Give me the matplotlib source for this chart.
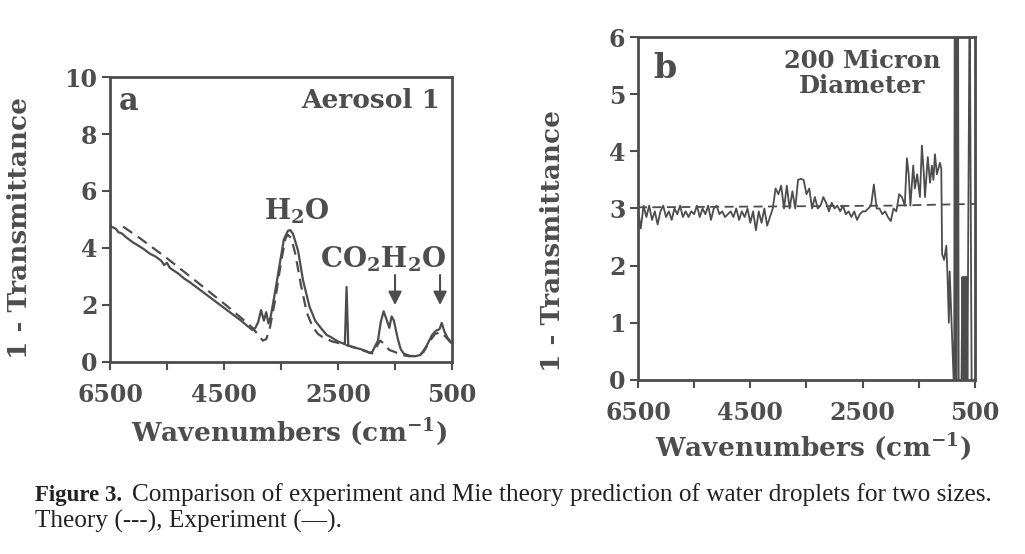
# Figure 3: experiment vs Mie theory, water droplets (two panels)

import matplotlib.pyplot as plt

# ---- data, panel a (Aerosol 1) ----
wn_a_exp = [6500, 6480, 6400, 6350, 6300, 6200, 6100, 6000, 5900, 5800, 5700, 5600,
            5550, 5500, 5450, 5300, 5200, 5100, 5000, 4900, 4800, 4700, 4600, 4500,
            4400, 4300, 4200, 4100, 4000, 3950, 3900, 3850, 3800, 3760, 3720, 3680,
            3600, 3520, 3450, 3380, 3340, 3290, 3200, 3115, 3000, 2900, 2820, 2700,
            2640, 2500, 2410, 2380, 2350, 2320, 2200, 2100, 2000, 1950, 1900, 1800,
            1750, 1700, 1650, 1600, 1560, 1520, 1450, 1400, 1350, 1250, 1150, 1050,
            950, 850, 780, 720, 680, 640, 580, 500]
t_a_exp = [4.87, 4.75, 4.68, 4.55, 4.52, 4.35, 4.20, 4.08, 3.95, 3.80, 3.70, 3.55,
           3.40, 3.48, 3.30, 3.10, 2.93, 2.80, 2.65, 2.50, 2.35, 2.20, 2.05, 1.90,
           1.75, 1.60, 1.45, 1.28, 1.12, 1.20, 1.40, 1.82, 1.45, 1.75, 1.35, 1.60,
           2.50, 3.47, 4.30, 4.60, 4.63, 4.50, 3.90, 2.88, 1.94, 1.45, 1.24, 0.95,
           0.89, 0.72, 0.65, 0.62, 2.63, 0.58, 0.50, 0.45, 0.38, 0.32, 0.35, 0.75,
           1.40, 1.78, 1.50, 1.20, 1.60, 1.45, 0.80, 0.45, 0.30, 0.22, 0.20, 0.25,
           0.55, 0.95, 1.10, 1.15, 1.37, 1.10, 0.85, 0.65]

wn_a_th = [6270, 6000, 5500, 5000, 4500, 4200, 4000, 3900, 3820, 3760, 3700, 3600,
           3500, 3420, 3380, 3320, 3250, 3150, 3050, 2950, 2850, 2750, 2600, 2400,
           2200, 2000, 1900, 1850, 1760, 1700, 1600, 1500, 1400, 1250, 1100, 1000,
           900, 800, 700, 620, 540, 500]
t_a_th = [4.75, 4.38, 3.64, 2.85, 2.05, 1.55, 1.20, 0.95, 0.75, 0.80, 1.15, 2.20,
          3.50, 4.35, 4.46, 4.35, 3.80, 2.70, 1.75, 1.25, 0.98, 0.85, 0.72, 0.62,
          0.50, 0.36, 0.30, 0.45, 0.75, 0.65, 0.42, 0.35, 0.25, 0.20, 0.22, 0.35,
          0.70, 0.98, 1.05, 0.90, 0.72, 0.65]

# ---- data, panel b (200 micron diameter) ----
wn_b_exp = [6500, 6450, 6400, 6350, 6300, 6250, 6200, 6150, 6100, 6050, 6000, 5950,
            5900, 5850, 5800, 5750, 5700, 5650, 5600, 5550, 5500, 5450, 5400, 5350,
            5300, 5250, 5200, 5150, 5100, 5050, 5000, 4950, 4900, 4850, 4800, 4750,
            4700, 4650, 4600, 4550, 4500, 4450, 4400, 4350, 4300, 4250, 4200, 4150,
            4100, 4050, 4000, 3950, 3900, 3850, 3800, 3750, 3700, 3650, 3600, 3550,
            3500, 3450, 3400, 3350, 3300, 3250, 3200, 3150, 3100, 3050, 3000, 2950,
            2900, 2850, 2800, 2750, 2700, 2650, 2600, 2550, 2500, 2450, 2400, 2350,
            2300, 2250, 2200, 2150, 2100, 2050, 2000, 1950, 1900, 1850, 1800, 1750,
            1712, 1680, 1650, 1600, 1570, 1530, 1480, 1445, 1410, 1390, 1340, 1300,
            1267, 1240, 1213, 1178, 1150, 1124, 1100, 1085, 1050, 1010, 990, 965,
            950, 880, 870, 862, 848, 840, 828, 818, 800, 790, 740, 725,
            715, 705, 695, 685, 675, 665, 655, 645, 635, 625, 600, 590, 560]
t_b_exp = [3.00, 2.65, 3.05, 2.85, 3.05, 2.80, 2.95, 2.72, 2.95, 3.05, 2.85, 2.95,
           2.80, 3.00, 2.90, 3.05, 2.85, 2.95, 2.85, 2.95, 2.90, 3.05, 2.85, 3.00,
           2.90, 3.05, 2.80, 3.00, 3.05, 2.90, 2.95, 2.85, 2.90, 2.95, 2.85, 3.00,
           2.80, 2.95, 2.85, 3.00, 2.75, 2.95, 2.62, 2.95, 2.75, 3.00, 2.70, 2.85,
           3.00, 3.35, 3.25, 3.40, 3.00, 3.40, 3.00, 3.30, 3.00, 3.50, 3.52, 3.50,
           3.25, 3.35, 3.00, 3.20, 3.00, 3.05, 3.20, 3.10, 2.95, 3.10, 3.00, 3.05,
           2.95, 3.05, 2.90, 2.95, 2.85, 2.95, 2.80, 2.90, 2.95, 2.95, 3.00, 3.05,
           3.42, 3.00, 3.00, 2.90, 2.95, 2.85, 2.78, 3.00, 2.95, 3.25, 3.20, 3.05,
           3.88, 3.60, 3.05, 3.75, 3.35, 3.60, 3.20, 4.10, 3.60, 3.20, 3.90, 3.45,
           3.75, 3.50, 3.95, 3.60, 3.70, 3.80, 3.70, 2.20, 2.10, 2.35, 1.85, 1.00,
           1.90, 0.00, 0.00, 6.00, 6.00, 0.00, 0.00, 6.00, 6.00, 0.00, 0.00, 1.80,
           0.00, 1.80, 0.00, 1.80, 0.00, 1.80, 0.00, 1.80, 0.00, 1.80, 6.00, 6.00, 0.00]

wn_b_th = [6500, 5000, 3500, 2000, 1000, 500]
t_b_th = [3.02, 3.03, 3.04, 3.05, 3.07, 3.08]

ink = '#4d4d4d'
plt.rcParams['font.family'] = 'DejaVu Serif'
plt.rcParams['font.weight'] = 'bold'
plt.rcParams['mathtext.fontset'] = 'dejavuserif'
plt.rcParams['text.color'] = ink
plt.rcParams['axes.labelcolor'] = ink
plt.rcParams['axes.edgecolor'] = ink
plt.rcParams['xtick.color'] = ink
plt.rcParams['ytick.color'] = ink

fig = plt.figure(figsize=(10.25, 5.54), dpi=100)


def style_axes(ax, ymax):
    ax.set_xlim(6500, 500)
    ax.set_ylim(0, ymax)
    ax.set_xticks([6500, 5500, 4500, 3500, 2500, 1500, 500])
    ax.set_xticklabels(['6500', '', '4500', '', '2500', '', '500'])
    ax.tick_params(axis='both', direction='out', length=6, width=1.5, labelsize=17)
    ax.tick_params(axis='x', pad=9)
    ax.tick_params(axis='y', pad=3)
    for s in ax.spines.values():
        s.set_linewidth(2)
    ax.set_ylabel('1 - Transmittance', fontsize=19, fontweight='bold')
    ax.set_xlabel('Wavenumbers (cm$^{\\mathbf{-1}}$)', fontsize=19, fontweight='bold')


# panel a
ax1 = fig.add_axes([0.1073, 0.3466, 0.3337, 0.5144])
ax1.plot(wn_a_exp, t_a_exp, color=ink, lw=1.6)
ax1.plot(wn_a_th, t_a_th, color=ink, lw=1.6, ls=(0, (5, 3)))
style_axes(ax1, 10)
ax1.set_yticks([0, 2, 4, 6, 8, 10])
ax1.yaxis.set_label_coords(-0.228, 0.47)
ax1.xaxis.set_label_coords(0.523, -0.19)
ax1.text(0.025, 0.97, 'a', transform=ax1.transAxes, fontsize=22, va='top', ha='left')
ax1.text(0.965, 0.96, 'Aerosol 1', transform=ax1.transAxes, fontsize=19, va='top', ha='right')
ax1.text(3220, 5.0, r'$\mathbf{H_2O}$', fontsize=20, ha='center', va='baseline')
ax1.text(1711, 3.3, r'$\mathbf{CO_2H_2O}$', fontsize=20, ha='center', va='baseline')
for x0 in [1500, 710]:
    ax1.annotate('', xy=(x0, 1.9), xytext=(x0, 3.15),
                 arrowprops=dict(arrowstyle='-|>', color=ink, lw=1.5, mutation_scale=20))

# panel b
ax2 = fig.add_axes([0.6224, 0.3141, 0.3288, 0.6191])
ax2.plot(wn_b_exp, t_b_exp, color=ink, lw=1.3)
ax2.plot(wn_b_th, t_b_th, color=ink, lw=1.3, ls=(0, (5, 3)))
style_axes(ax2, 6)
ax2.set_yticks([0, 1, 2, 3, 4, 5, 6])
ax2.yaxis.set_label_coords(-0.217, 0.405)
ax2.xaxis.set_label_coords(0.52, -0.15)
ax2.text(0.045, 0.955, 'b', transform=ax2.transAxes, fontsize=24, va='top', ha='left')
ax2.text(0.665, 0.965, '200 Micron\nDiameter', transform=ax2.transAxes, fontsize=17.5,
         va='top', ha='center', linespacing=1.05)

# caption
fig.text(0.034, 0.095, 'Figure 3.', fontsize=16.5, fontweight='bold',
         family='Liberation Serif', color='#222222')
fig.text(0.129, 0.095, 'Comparison of experiment and Mie theory prediction of water '
         'droplets for two sizes.', fontsize=18.2, fontweight='normal',
         family='Liberation Serif', color='#222222')
fig.text(0.034, 0.048, 'Theory (---), Experiment (\u2014).', fontsize=18.2,
         fontweight='normal', family='Liberation Serif', color='#222222')

fig.savefig('out.png', dpi=100)
